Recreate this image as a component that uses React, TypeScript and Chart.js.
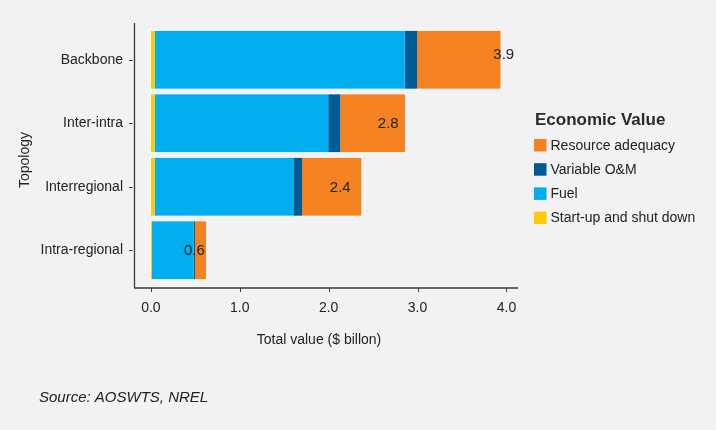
import React, { useEffect, useRef } from "react";
import { Chart, registerables } from "chart.js";
Chart.register(...registerables);

const categories = ["Backbone", "Inter-intra", "Interregional", "Intra-regional"];
const startUp = [0.045, 0.045, 0.045, 0.012];
const fuel = [2.81, 1.95, 1.565, 0.47];
const variableOM = [0.14, 0.135, 0.09, 0.015];
const resourceAdequacy = [0.94, 0.73, 0.67, 0.125];
const totalLabels = ["3.9", "2.8", "2.4", "0.6"];
const labelAt = [3.97, 2.67, 2.13, 0.49];
const xTicks = [0, 1, 2, 3, 4];

const seriesNames = ["Start-up and shut down", "Fuel", "Variable O&M", "Resource adequacy"];
const seriesColors = ["#FFC90A", "#00AEEF", "#005B94", "#F58220"];
const legendOrder = [3, 2, 1, 0];

const FONT = "'Liberation Sans', Arial, sans-serif";
const BG = "#F2F2F4";
const AXIS = "#3A3A3A";

export default function App() {
  const ref = useRef<HTMLCanvasElement | null>(null);
  useEffect(() => {
    if (!ref.current) return;
    document.body.style.margin = "0";
    document.body.style.background = BG;

    const overlay = {
      id: "overlay",
      beforeDraw(chart: any) {
        const c = chart.ctx;
        c.save();
        c.fillStyle = BG;
        c.fillRect(0, 0, chart.width, chart.height);
        c.restore();
      },
      afterDatasetsDraw(chart: any) {
        // thin light outline around each whole stacked bar
        const c = chart.ctx;
        c.save();
        c.strokeStyle = "rgba(255,255,255,0.75)";
        c.lineWidth = 1;
        const n = chart.data.datasets.length;
        const first = chart.getDatasetMeta(0);
        const last = chart.getDatasetMeta(n - 1);
        first.data.forEach((bar: any, i: number) => {
          const p0 = bar.getProps(["base", "y", "height"], true);
          const p1 = last.data[i].getProps(["x"], true);
          const l = Math.min(p0.base, p1.x);
          const r = Math.max(p0.base, p1.x);
          c.strokeRect(l - 0.5, p0.y - p0.height / 2 - 0.5, r - l + 1, p0.height + 1);
        });
        c.restore();
      },
      afterDraw(chart: any) {
        const c = chart.ctx;
        const xs = chart.scales.x;
        const ys = chart.scales.y;
        const a = chart.chartArea;
        c.save();
        // axis lines
        c.strokeStyle = AXIS;
        c.lineWidth = 1.3;
        c.beginPath();
        c.moveTo(a.left + 0.5, a.top - 5);
        c.lineTo(a.left + 0.5, a.bottom + 6);
        c.lineTo(a.right, a.bottom + 6);
        c.stroke();
        // x tick marks
        c.lineWidth = 1;
        xTicks.forEach((v) => {
          const px = Math.round(xs.getPixelForValue(v)) + 0.5;
          c.beginPath();
          c.moveTo(px, a.bottom + 6);
          c.lineTo(px, a.bottom + 10);
          c.stroke();
        });
        // y tick marks
        categories.forEach((_, i) => {
          const py = Math.round(ys.getPixelForValue(i)) + 0.5;
          c.beginPath();
          c.moveTo(a.left - 5, py);
          c.lineTo(a.left - 1.5, py);
          c.stroke();
        });
        // total labels
        c.fillStyle = "#222";
        c.font = `15px ${FONT}`;
        c.textAlign = "center";
        c.textBaseline = "middle";
        totalLabels.forEach((t, i) => {
          c.fillText(t, xs.getPixelForValue(labelAt[i]), ys.getPixelForValue(i) + (i === 0 ? -5 : 1));
        });
        // axis titles
        c.font = `14px ${FONT}`;
        c.fillStyle = "#222";
        c.fillText("Total value ($ billon)", 319, 340);
        c.save();
        c.translate(25, 160);
        c.rotate(-Math.PI / 2);
        c.fillText("Topology", 0, 0);
        c.restore();
        // legend
        c.textAlign = "left";
        c.font = `bold 17px ${FONT}`;
        c.fillStyle = "#2A2A2A";
        c.fillText("Economic Value", 535, 120);
        c.font = `14px ${FONT}`;
        legendOrder.forEach((si, k) => {
          const y = 145 + k * 24.2;
          c.fillStyle = seriesColors[si];
          c.fillRect(534, y - 6, 12.5, 12.5);
          c.fillStyle = "#222";
          c.fillText(seriesNames[si], 550.5, y + 1);
        });
        // source
        c.font = `italic 15px ${FONT}`;
        c.fillStyle = "#222";
        c.fillText("Source: AOSWTS, NREL", 39, 398);
        c.restore();
      },
    };

    const values = [startUp, fuel, variableOM, resourceAdequacy];
    const chart = new Chart(ref.current, {
      type: "bar",
      data: {
        labels: categories,
        datasets: values.map((d, i) => ({
          label: seriesNames[i],
          data: d,
          backgroundColor: seriesColors[i],
          borderWidth: 0,
          barPercentage: 0.915,
          categoryPercentage: 1,
        })),
      },
      options: {
        indexAxis: "y",
        responsive: false,
        animation: false,
        devicePixelRatio: 1,
        layout: { padding: { left: 0, top: 28, right: 198, bottom: 0 } },
        plugins: { legend: { display: false }, tooltip: { enabled: false } },
        scales: {
          x: {
            type: "linear",
            stacked: true,
            min: -0.19,
            max: 4.13,
            grid: { display: false },
            border: { display: false },
            afterBuildTicks: (s: any) => {
              s.ticks = xTicks.map((v) => ({ value: v }));
            },
            afterFit: (s: any) => {
              s.height = 148;
            },
            ticks: {
              padding: 10,
              color: "#222",
              font: { family: FONT, size: 14 },
              callback: (v: any) => Number(v).toFixed(1),
            },
          },
          y: {
            stacked: true,
            grid: { display: false },
            border: { display: false },
            afterFit: (s: any) => {
              s.width = 134;
            },
            ticks: {
              padding: 3,
              color: "#222",
              font: { family: FONT, size: 14 },
            },
          },
        },
      },
      plugins: [overlay],
    } as any);
    return () => chart.destroy();
  }, []);
  return (
    <div style={{ position: "absolute", left: 0, top: 0, width: 716, height: 430 }}>
      <canvas ref={ref} width={716} height={430} />
    </div>
  );
}
